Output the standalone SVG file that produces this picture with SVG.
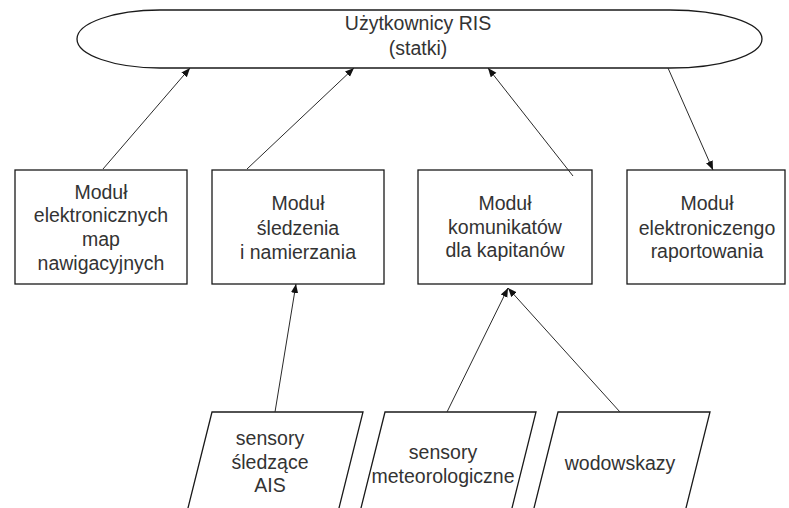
<svg xmlns="http://www.w3.org/2000/svg" width="789" height="508" viewBox="0 0 789 508">
<style>
.shape{fill:#fff;stroke:#1a1a1a;stroke-width:1.3}
.t{font-family:"Liberation Sans",Arial,sans-serif;font-size:19.5px;fill:#333;text-anchor:middle}
.c{stroke:#2a2a2a;stroke-width:1;fill:none}
</style>
<defs>
<marker id="ah" viewBox="0 0 10 10" refX="10" refY="5" markerWidth="9" markerHeight="9" markerUnits="userSpaceOnUse" orient="auto">
<path d="M0,1 L10,5 L0,9 Z" fill="#111"/>
</marker>
</defs>
<rect width="789" height="508" fill="#fff"/>
<g id="users">
<path class="shape" d="M160,10 H670 A92,29 0 0 1 670,68 H160 A83,29 0 0 1 160,10 Z"/>
<text class="t" x="418" y="30">Użytkownicy RIS</text>
<text class="t" x="418" y="55">(statki)</text>
</g>
<g id="mod-map">
<rect class="shape" x="15" y="170" width="172" height="114"/>
<text class="t" x="101" y="199">Moduł</text>
<text class="t" x="101" y="222">elektronicznych</text>
<text class="t" x="101" y="246">map</text>
<text class="t" x="101" y="270">nawigacyjnych</text>
</g>
<g id="mod-sled">
<rect class="shape" x="212" y="170" width="172" height="114"/>
<text class="t" x="298" y="210">Moduł</text>
<text class="t" x="298" y="235">śledzenia</text>
<text class="t" x="298" y="259">i namierzania</text>
</g>
<g id="mod-kom">
<rect class="shape" x="418" y="170" width="174" height="114"/>
<text class="t" x="505" y="210">Moduł</text>
<text class="t" x="505" y="234">komunikatów</text>
<text class="t" x="505" y="257">dla kapitanów</text>
</g>
<g id="mod-rap">
<rect class="shape" x="627" y="170" width="158" height="114"/>
<text class="t" x="707" y="210">Moduł</text>
<text class="t" x="707" y="235">elektroniczengo</text>
<text class="t" x="707" y="258">raportowania</text>
</g>
<g id="sens-ais">
<path class="shape" d="M212,412 H363 L336,520 H185 Z"/>
<text class="t" x="270" y="445">sensory</text>
<text class="t" x="270" y="469">śledzące</text>
<text class="t" x="270" y="492">AIS</text>
</g>
<g id="sens-met">
<path class="shape" d="M385,412 H536 L509,520 H358 Z"/>
<text class="t" x="443" y="459">sensory</text>
<text class="t" x="443" y="483">meteorologiczne</text>
</g>
<g id="wodowskazy">
<path class="shape" d="M558,412 H710 L683,520 H531 Z"/>
<text class="t" x="620" y="470">wodowskazy</text>
</g>
<g id="connectors">
<line class="c" x1="103" y1="169" x2="190" y2="68" marker-end="url(#ah)"/>
<line class="c" x1="247" y1="169" x2="354" y2="68" marker-end="url(#ah)"/>
<line class="c" x1="573" y1="176" x2="488" y2="68" marker-end="url(#ah)"/>
<line class="c" x1="668" y1="68" x2="713" y2="170" marker-end="url(#ah)"/>
<line class="c" x1="275" y1="412" x2="296" y2="284" marker-end="url(#ah)"/>
<line class="c" x1="447" y1="412" x2="508" y2="288" marker-end="url(#ah)"/>
<line class="c" x1="620" y1="412" x2="508" y2="288" marker-end="url(#ah)"/>
</g>
</svg>
